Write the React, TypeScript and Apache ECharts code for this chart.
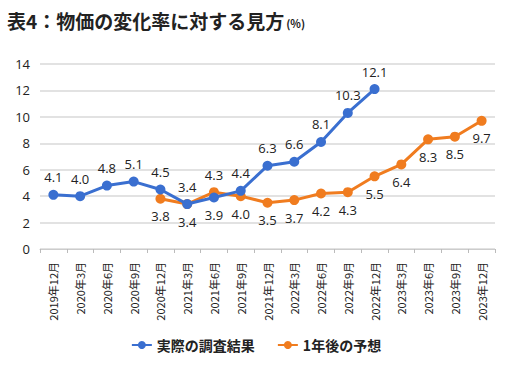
import React, { useEffect, useRef } from "react";
import * as echarts from "echarts";

const categories = [
  "2019年12月", "2020年3月", "2020年6月", "2020年9月", "2020年12月",
  "2021年3月", "2021年6月", "2021年9月", "2021年12月",
  "2022年3月", "2022年6月", "2022年9月", "2022年12月",
  "2023年3月", "2023年6月", "2023年9月", "2023年12月",
];
const actual = [4.1, 4.0, 4.8, 5.1, 4.5, 3.4, 3.9, 4.4, 6.3, 6.6, 8.1, 10.3, 12.1, null, null, null, null];
const forecast = [null, null, null, null, 3.8, 3.4, 4.3, 4.0, 3.5, 3.7, 4.2, 4.3, 5.5, 6.4, 8.3, 8.5, 9.7];
const yTicks = { min: 0, max: 14, interval: 2 };

const BLUE = "#3a6fd0";
const ORANGE = "#f07c1f";
const FONT = "'Noto Sans CJK JP', 'Noto Sans', sans-serif";
const NUMFONT = "'Open Sans', 'Noto Sans CJK JP', sans-serif";

export default function App() {
  const ref = useRef<HTMLDivElement>(null);
  useEffect(() => {
    const chart = echarts.init(ref.current!, null, { renderer: "svg" });
    const labelStyle = { show: true, color: "#222", fontSize: 13, fontFamily: NUMFONT, fontWeight: 500, formatter: (p: any) => Number(p.value).toFixed(1) };
    chart.setOption({
      animation: false,
      backgroundColor: "#fff",
      title: {
        text: "{a|表4：物価の変化率に対する見方}{b|(%)}",
        left: 2,
        top: 6,
        textStyle: {
          rich: {
            a: { fontSize: 19, fontWeight: "bold", color: "#222", fontFamily: FONT },
            b: { fontSize: 11, fontWeight: "bold", color: "#222", fontFamily: FONT, padding: [4, 0, 0, 2] },
          },
        },
      },
      grid: { left: 40, right: 17, top: 64, bottom: 130, containLabel: false },
      legend: {
        top: 333,
        left: "center",
        itemWidth: 20,
        itemHeight: 10,
        itemGap: 22,
        textStyle: { fontSize: 14, color: "#222", fontFamily: FONT, fontWeight: "bold" },
        data: ["実際の調査結果", "1年後の予想"],
      },
      xAxis: {
        type: "category",
        data: categories,
        boundaryGap: true,
        axisLine: { lineStyle: { color: "#ccc" } },
        axisTick: { show: true, length: 4, lineStyle: { color: "#bbb" } },
        axisLabel: { rotate: 90, fontSize: 11, color: "#222", fontFamily: FONT, margin: 13, interval: 0 },
      },
      yAxis: {
        type: "value",
        min: yTicks.min,
        max: yTicks.max,
        interval: yTicks.interval,
        axisLine: { show: false },
        axisTick: { show: false },
        axisLabel: { fontSize: 13, color: "#222", fontFamily: NUMFONT, fontWeight: 500, margin: 10 },
        splitLine: { lineStyle: { color: "#d9d9d9", width: 1.5 } },
      },
      series: [
        {
          name: "実際の調査結果",
          type: "line",
          data: actual.map((v, i) => (i === 6 ? { value: v, label: { position: "bottom" } } : v)),
          symbol: "circle",
          symbolSize: 10,
          itemStyle: { color: BLUE },
          lineStyle: { color: BLUE, width: 3 },
          label: { ...labelStyle, position: "top", distance: 6 },
          z: 3,
        },
        {
          name: "1年後の予想",
          type: "line",
          data: forecast.map((v, i) => (i === 6 ? { value: v, label: { position: "top" } } : v)),
          symbol: "circle",
          symbolSize: 10,
          itemStyle: { color: ORANGE },
          lineStyle: { color: ORANGE, width: 3 },
          label: { ...labelStyle, position: "bottom", distance: 6 },
          z: 2,
        },
      ],
    });
    return () => chart.dispose();
  }, []);
  return <div ref={ref} style={{ position: "absolute", left: 0, top: 0, width: 512, height: 379 }} />;
}
